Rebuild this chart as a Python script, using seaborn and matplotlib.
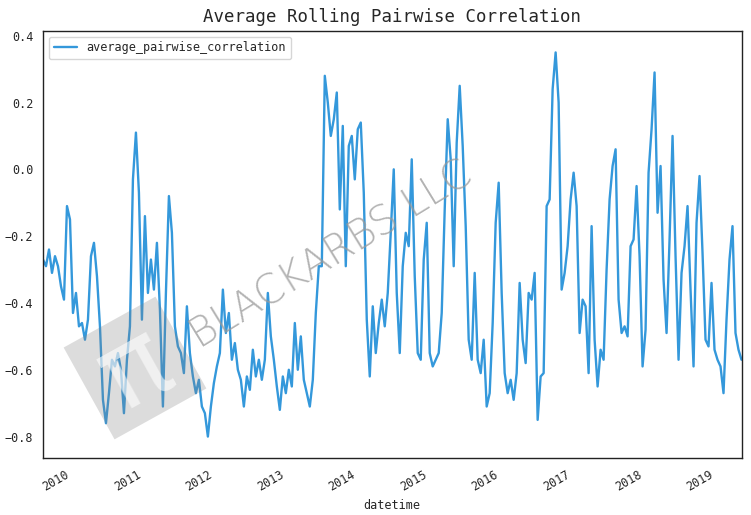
#!/usr/bin/python

import numpy as np
import pandas as pd
import seaborn as sns
import matplotlib
matplotlib.use('Agg')
import matplotlib.pyplot as plt
import matplotlib.dates as mdates
from matplotlib.patches import Polygon

####################################################################################################
# Data (evenly spaced in time)
####################################################################################################
START_DATE = '2009-08-08'
END_DATE = '2019-05-14'
SERIES_NAME = 'average_pairwise_correlation'

corr_2009_2011 = [
    -0.27, -0.29, -0.24, -0.31, -0.26, -0.29, -0.35, -0.39, -0.11, -0.15,
    -0.43, -0.37, -0.47, -0.46, -0.51, -0.45, -0.26, -0.22, -0.32, -0.47,
    -0.69, -0.76, -0.67, -0.57, -0.59, -0.55, -0.60, -0.73, -0.57, -0.47,
    -0.03, 0.11, -0.07, -0.45, -0.14, -0.37, -0.27, -0.36, -0.22, -0.42,
    -0.71, -0.37, -0.08, -0.19, -0.47, -0.53, -0.55, -0.61, -0.41]

corr_2011_2013 = [
    -0.55, -0.62, -0.67, -0.63, -0.71, -0.73, -0.80, -0.71, -0.64, -0.59,
    -0.55, -0.36, -0.49, -0.43, -0.57, -0.52, -0.60, -0.63, -0.71, -0.62,
    -0.66, -0.54, -0.62, -0.57, -0.63, -0.57, -0.37, -0.50, -0.57, -0.65,
    -0.72, -0.62, -0.67, -0.60, -0.65, -0.46, -0.60, -0.50, -0.63, -0.67,
    -0.71, -0.63, -0.43, -0.29, -0.29, 0.28, 0.20]

corr_2013_2015 = [
    0.10, 0.15, 0.23, -0.12, 0.13, -0.29, 0.07, 0.10, -0.03, 0.12,
    0.14, -0.07, -0.45, -0.62, -0.41, -0.55, -0.46, -0.39, -0.47, -0.37,
    -0.19, 0.00, -0.37, -0.55, -0.29, -0.19, -0.23, 0.03, -0.32, -0.55,
    -0.57, -0.27, -0.16, -0.55, -0.59, -0.57, -0.55, -0.43, -0.12, 0.15,
    0.03, -0.29, 0.08, 0.25, 0.07, -0.17]

corr_2015_2017 = [
    -0.51, -0.57, -0.31, -0.57, -0.61, -0.51, -0.71, -0.67, -0.46, -0.16,
    -0.04, -0.37, -0.61, -0.67, -0.63, -0.69, -0.61, -0.34, -0.51, -0.58,
    -0.37, -0.39, -0.31, -0.75, -0.62, -0.61, -0.11, -0.09, 0.24, 0.35,
    0.20, -0.36, -0.31, -0.23, -0.09, -0.01, -0.11, -0.49, -0.39, -0.41,
    -0.61, -0.17, -0.51, -0.65, -0.54, -0.57, -0.30]

corr_2017_2019 = [
    -0.09, 0.01, 0.06, -0.39, -0.49, -0.47, -0.50, -0.23, -0.21, -0.05,
    -0.26, -0.59, -0.48, -0.01, 0.12, 0.29, -0.13, 0.01, -0.33, -0.49,
    -0.21, 0.10, -0.26, -0.57, -0.31, -0.23, -0.11, -0.36, -0.59, -0.16,
    -0.02, -0.25, -0.51, -0.53, -0.34, -0.54, -0.57, -0.59, -0.67, -0.45,
    -0.27, -0.17, -0.49, -0.54, -0.57]

WATERMARK_TEXT = 'BLACKARBS LLC'


####################################################################################################
# @build_frame
####################################################################################################
def build_frame():
    values = corr_2009_2011 + corr_2011_2013 + corr_2013_2015 + corr_2015_2017 + corr_2017_2019
    dates = pd.date_range(START_DATE, END_DATE, periods=len(values))
    df = pd.DataFrame({'datetime': dates, SERIES_NAME: values})
    return df


####################################################################################################
# @add_watermark
####################################################################################################
def add_watermark(fig, ax):

    W, H = 751.0, 515.0

    # Grey rotated square of the logo (pixel centre, side, angle)
    cx, cy, side, ang = 135.0, 368.0, 105.0, np.radians(29.0)
    corners = np.array([[-1, -1], [1, -1], [1, 1], [-1, 1]]) * side / 2.0
    rot = np.array([[np.cos(ang), -np.sin(ang)], [np.sin(ang), np.cos(ang)]])
    pts = corners @ rot.T
    pts[:, 0] = (cx + pts[:, 0]) / W
    pts[:, 1] = 1.0 - (cy - pts[:, 1]) / H
    logo = Polygon(pts, closed=True, transform=fig.transFigure,
                   facecolor='#808080', edgecolor='none', alpha=0.27, zorder=5)
    fig.add_artist(logo)
    fig.text(cx / W, 1.0 - (cy + 2) / H, u'\u03c0', fontsize=78, color='white', alpha=0.6,
             rotation=29, ha='center', va='center', rotation_mode='anchor',
             family='DejaVu Sans', zorder=6)

    # Company name
    fig.text(331.0 / W, 1.0 - 255.0 / H, WATERMARK_TEXT, fontsize=29, color='#9a9a9a',
             alpha=0.75, rotation=31.5, ha='center', va='center', rotation_mode='anchor',
             family='DejaVu Sans', fontweight='ultralight', zorder=6)


####################################################################################################
# @plot_series
####################################################################################################
def plot_series(df, output='out.png'):

    sns.set_style('white')
    plt.rcParams['font.family'] = ['DejaVu Sans Mono', 'DejaVu Sans']
    plt.rcParams['axes.unicode_minus'] = True

    fig = plt.figure(figsize=(7.51, 5.15), dpi=100)
    ax = fig.add_axes([43.0 / 751, 1 - 458.3 / 515, 698.5 / 751, 427.6 / 515])

    sns.lineplot(data=df, x='datetime', y=SERIES_NAME, ax=ax, color='#3498db',
                 linewidth=1.7, label=SERIES_NAME)

    ax.set_xlim(df['datetime'].iloc[0], df['datetime'].iloc[-1])
    ax.set_ylim(-0.865, 0.415)
    ax.set_yticks([-0.8, -0.6, -0.4, -0.2, 0.0, 0.2, 0.4])
    ax.xaxis.set_major_locator(mdates.YearLocator())
    ax.xaxis.set_major_formatter(mdates.DateFormatter('%Y'))
    for lbl in ax.get_xticklabels():
        lbl.set_rotation(30)
        lbl.set_ha('right')
    ax.tick_params(labelsize=8.5)

    ax.set_title('Average Rolling Pairwise Correlation', fontsize=12.5)
    ax.set_xlabel('datetime', fontsize=8.5)
    ax.set_ylabel('')

    for sp in ax.spines.values():
        sp.set_color('#222222')
        sp.set_linewidth(1.0)

    leg = ax.legend(loc='upper left', fontsize=8.5, frameon=True, fancybox=True)
    leg.get_frame().set_edgecolor('#cccccc')

    add_watermark(fig, ax)

    fig.savefig(output, dpi=100)
    plt.close(fig)


if __name__ == "__main__":
    plot_series(build_frame())
